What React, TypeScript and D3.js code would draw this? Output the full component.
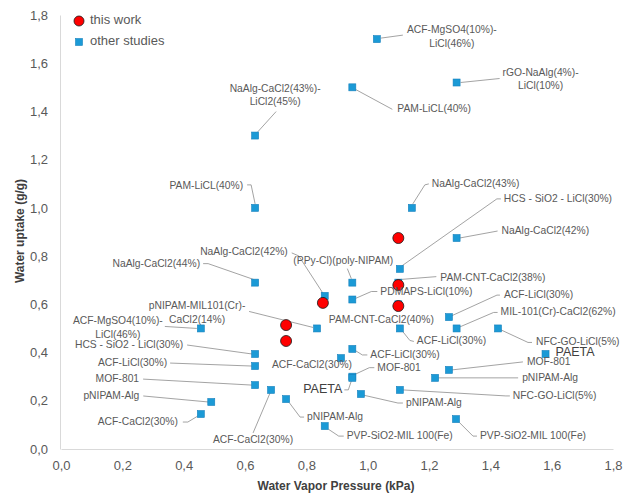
import { useEffect, useRef } from "react";
import { axisBottom, axisLeft, formatLocale, line, scaleLinear, select } from "d3";

// this work
const thisWorkX = [0.734, 0.734, 0.854, 1.1, 1.1, 1.1];
const thisWorkY = [0.448, 0.514, 0.606, 0.593, 0.68, 0.875];

// other studies
const otherNames = [
  "ACF-MgSO4(10%)-\nLiCl(46%)",
  "rGO-NaAlg(4%)-\nLiCl(10%)",
  "PAM-LiCL(40%)",
  "NaAlg-CaCl2(43%)-\nLiCl2(45%)",
  "PAM-LiCL(40%)",
  "NaAlg-CaCl2(43%)",
  "NaAlg-CaCl2(42%)",
  "HCS - SiO2 - LiCl(30%)",
  "PAM-CNT-CaCl2(38%)",
  "(PPy-Cl)(poly-NIPAM)",
  "NaAlg-CaCl2(42%)",
  "NaAlg-CaCl2(44%)",
  "PDMAPS-LiCl(10%)",
  "pNIPAM-MIL101(Cr)-\nCaCl2(14%)",
  "PAM-CNT-CaCl2(40%)",
  "ACF-LiCl(30%)",
  "MIL-101(Cr)-CaCl2(62%)",
  "NFC-GO-LiCl(5%)",
  "ACF-LiCl(30%)",
  "ACF-LiCl(30%)",
  "ACF-CaCl2(30%)",
  "MOF-801",
  "PAETA",
  "pNIPAM-Alg",
  "NFC-GO-LiCl(5%)",
  "pNIPAM-Alg",
  "MOF-801",
  "PAETA",
  "PVP-SiO2-MIL 100(Fe)",
  "PVP-SiO2-MIL 100(Fe)",
  "pNIPAM-Alg",
  "ACF-CaCl2(30%)",
  "MOF-801",
  "ACF-LiCl(30%)",
  "HCS - SiO2 - LiCl(30%)",
  "ACF-MgSO4(10%)-\nLiCl(46%)",
  "pNIPAM-Alg",
  "ACF-CaCl2(30%)",
];
const otherX = [
  1.03, 1.29, 0.95, 0.633, 0.633, 1.144, 1.29, 1.105, 1.1, 0.95, 0.86, 0.633, 0.95,
  0.835, 1.1, 1.265, 1.29, 1.425, 1.105, 0.95, 0.913, 0.95, 0.95, 0.978, 1.105, 1.22,
  1.265, 1.58, 1.288, 0.86, 0.734, 0.685, 0.633, 0.633, 0.633, 0.456, 0.49, 0.456,
];
const otherY = [
  1.7, 1.52, 1.5, 1.3, 1.0, 1.0, 0.875, 0.747, 0.69, 0.69, 0.635, 0.69, 0.62, 0.5, 0.6,
  0.547, 0.5, 0.5, 0.5, 0.415, 0.377, 0.3, 0.295, 0.228, 0.245, 0.295, 0.328, 0.394,
  0.124, 0.095, 0.207, 0.245, 0.265, 0.344, 0.394, 0.5, 0.195, 0.145,
];

const xTicks = [0, 0.2, 0.4, 0.6, 0.8, 1.0, 1.2, 1.4, 1.6, 1.8];
const yTicks = [0, 0.2, 0.4, 0.6, 0.8, 1.0, 1.2, 1.4, 1.6, 1.8];

// label placement (pixel offsets from the marker), same order as otherNames
type Place = { dx: number; dy: number; a?: string; big?: boolean; lead?: number[][] };
const labelPlace: Place[] = [
  { dx: 75, dy: -9, a: "middle", lead: [[4, -1], [26, -4]] },
  { dx: 84, dy: -10, a: "middle", lead: [[4, 0], [43, -4]] },
  { dx: 45, dy: 22, lead: [[3, 2], [40, 22]] },
  { dx: 20, dy: -47, a: "middle", lead: [[2, -3], [21, -24]] },
  { dx: -12, dy: -22, a: "end", lead: [[-8, -23], [-4, -23], [0, -4]] },
  { dx: 20, dy: -24, lead: [[1, -4], [13, -23], [17, -24]] },
  { dx: 45, dy: -7, lead: [[3, 0], [41, -7]] },
  { dx: 104, dy: -70, lead: [[2, -3], [97, -70], [101, -70]] },
  { dx: 42, dy: -5, lead: [[0, -3], [38, -6]] },
  { dx: -9, dy: -22, a: "middle", lead: [[-5, -14], [-1, -4]] },
  { dx: -37, dy: -44, a: "end", lead: [[-33, -43], [-26, -40], [-2, -3]] },
  { dx: -55, dy: -19, a: "end", lead: [[-52, -19], [-47, -19], [-1, -3]] },
  { dx: 28, dy: -8, lead: [[3, -1], [19, -8], [25, -8]] },
  { dx: -120, dy: -22, a: "middle", lead: [[-68, -17], [-4, -1]] },
  { dx: -17, dy: 16, a: "middle" },
  { dx: 55, dy: -22, lead: [[2, -1], [48, -22], [51, -22]] },
  { dx: 44, dy: -16, lead: [[2, -1], [37, -16], [41, -16]] },
  { dx: 38, dy: 14, lead: [[2, 1], [30, 14], [34, 14]] },
  { dx: 17, dy: 13, lead: [[2, 2], [10, 12], [14, 13]] },
  { dx: 18, dy: 6, lead: [[2, 1], [10, 6], [15, 6]] },
  { dx: -29, dy: 7, a: "middle" },
  { dx: 25, dy: -9, lead: [[2, -2], [17, -9], [22, -9]] },
  { dx: -10, dy: 12, a: "end", big: true, lead: [[-8, 12], [-4, 12], [-1, 3]] },
  { dx: 45, dy: 9, lead: [[2, 1], [37, 9], [42, 9]] },
  { dx: 113, dy: 6, lead: [[3, 0], [106, 6], [110, 6]] },
  { dx: 87, dy: 0, lead: [[3, 0], [83, 0]] },
  { dx: 78, dy: -8, lead: [[3, 0], [74, -8]] },
  { dx: 10, dy: -1, big: true },
  { dx: 24, dy: 17, lead: [[2, 2], [17, 17], [21, 17]] },
  { dx: 22, dy: 10, lead: [[2, 2], [14, 10], [19, 10]] },
  { dx: 21, dy: 18, lead: [[2, 2], [14, 18], [18, 18]] },
  { dx: -18, dy: 50, a: "middle", lead: [[-1, 3], [-18, 43]] },
  { dx: -116, dy: -6, a: "end", lead: [[-3, 0], [-112, -6]] },
  { dx: -88, dy: -3, a: "end", lead: [[-3, 0], [-85, -3]] },
  { dx: -72, dy: -9, a: "end", lead: [[-3, 0], [-68, -9]] },
  { dx: -83, dy: -7, a: "middle", lead: [[-4, 0], [-36, -2]] },
  { dx: -72, dy: -6, a: "end", lead: [[-3, 0], [-68, -6]] },
  { dx: -23, dy: 8, a: "end", lead: [[-3, 2], [-13, 8], [-18, 8]] },
];

const W = 636;
const H = 494;
const font = "'Liberation Sans', Arial, sans-serif";
const textColor = "#595959";
const blue = "#1b9ad6";

const fmt = formatLocale({ decimal: ",", thousands: ".", grouping: [3], currency: ["", ""] }).format(".1f");

const x = scaleLinear().domain([0, 1.8]).range([61, 613]);
const y = scaleLinear().domain([0, 1.8]).range([449, 15]);

function AxisBottom() {
  const ref = useRef<SVGGElement>(null);
  useEffect(() => {
    if (!ref.current) return;
    const g = select(ref.current);
    g.call(axisBottom(x).tickValues(xTicks).tickFormat((d) => fmt(d as number)).tickSize(0).tickPadding(12));
    g.select(".domain").attr("stroke", "#d9d9d9");
    g.selectAll("text").attr("fill", textColor).attr("font-size", 13).attr("font-family", font);
  }, []);
  return <g ref={ref} transform={`translate(0, ${y(0)})`} />;
}

function AxisLeft() {
  const ref = useRef<SVGGElement>(null);
  useEffect(() => {
    if (!ref.current) return;
    const g = select(ref.current);
    g.call(axisLeft(y).tickValues(yTicks).tickFormat((d) => fmt(d as number)).tickSize(0).tickPadding(12));
    g.select(".domain").attr("stroke", "#d9d9d9");
    g.selectAll("text").attr("fill", textColor).attr("font-size", 13).attr("font-family", font);
  }, []);
  return <g ref={ref} transform={`translate(${x(0) - 1}, 0)`} />;
}

const lead = line();

export default function App() {
  const pts = otherNames.map((name, i) => ({ name, px: x(otherX[i]), py: y(otherY[i]), p: labelPlace[i] }));
  return (
    <svg width={W} height={H} style={{ position: "absolute", left: 0, top: 0, background: "#fff" }} fontFamily={font}>
      <AxisBottom />
      <AxisLeft />

      {/* leader lines */}
      {pts.map((d, i) =>
        d.p.lead ? (
          <path
            key={"l" + i}
            d={lead(d.p.lead.map(([a, b]) => [d.px + a, d.py + b]) as [number, number][]) || ""}
            fill="none"
            stroke="#8c8c8c"
            strokeWidth={0.8}
          />
        ) : null
      )}

      {/* other studies */}
      {pts.map((d, i) => (
        <rect key={"s" + i} x={d.px - 3.5} y={d.py - 3.5} width={7} height={7} fill={blue} stroke="#1680bd" strokeWidth={0.6} />
      ))}

      {/* this work */}
      {thisWorkX.map((v, i) => (
        <circle key={"c" + i} cx={x(v)} cy={y(thisWorkY[i])} r={5.5} fill="#ff0000" stroke="#1a1a1a" strokeWidth={0.8} />
      ))}

      {/* labels */}
      {pts.map((d, i) => (
        <text
          key={"t" + i}
          x={d.px + d.p.dx}
          y={d.py + d.p.dy}
          textAnchor={d.p.a || "start"}
          dominantBaseline="middle"
          fontSize={d.p.big ? 12.5 : 10.3}
          fill={d.p.big ? "#404040" : textColor}
        >
          {d.name.split("\n").map((s, k) => (
            <tspan key={k} x={d.px + d.p.dx} dy={k === 0 ? 0 : 13.5}>
              {s}
            </tspan>
          ))}
        </text>
      ))}

      {/* legend */}
      <circle cx={79} cy={21} r={5} fill="#ff0000" stroke="#1a1a1a" strokeWidth={0.8} />
      <text x={90} y={21} dominantBaseline="middle" fontSize={13} fill={textColor}>this work</text>
      <rect x={75.5} y={38.5} width={7} height={7} fill={blue} stroke="#1680bd" strokeWidth={0.6} />
      <text x={90} y={42} dominantBaseline="middle" fontSize={13} fill={textColor}>other studies</text>

      {/* axis titles */}
      <text x={336} y={487} textAnchor="middle" dominantBaseline="middle" fontSize={12} fontWeight="bold" fill="#404040">
        Water Vapor Pressure (kPa)
      </text>
      <text
        transform={`translate(21, 231) rotate(-90)`}
        textAnchor="middle"
        dominantBaseline="middle"
        fontSize={12}
        fontWeight="bold"
        fill="#404040"
      >
        Water uptake (g/g)
      </text>
    </svg>
  );
}
